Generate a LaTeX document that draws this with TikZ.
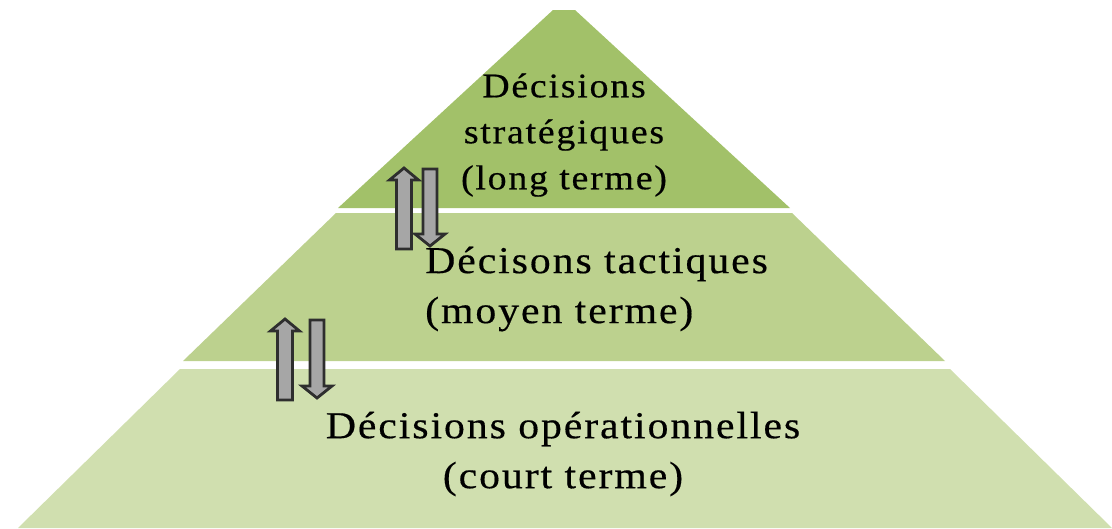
\documentclass[tikz,border=0pt]{standalone}
\usepackage{fontspec}
\setmainfont{Liberation Serif}[FakeStretch=1.1, LetterSpace=5, FakeBold=0.4]
\definecolor{layerA}{HTML}{A2C169}
\definecolor{layerB}{HTML}{BCD18E}
\definecolor{layerC}{HTML}{D0DFAF}
\definecolor{arrline}{HTML}{2E2E2E}
\definecolor{arrfill}{HTML}{A6A6A6}
\tikzset{
  blockarrow/.style={draw=arrline, fill=arrfill, line width=2.8pt, line join=miter},
  lbl/.style={inner sep=0pt, text=black},
}
% up arrow: center x, tip y, bottom y
\newcommand{\myuparrow}[3]{%
  \draw[blockarrow] (#1-7.5,#3) -- (#1-7.5,#2+12) -- (#1-14.5,#2+12) -- (#1,#2)
    -- (#1+14.5,#2+12) -- (#1+7.5,#2+12) -- (#1+7.5,#3) -- cycle;}
% down arrow: center x, top y, tip y
\newcommand{\mydownarrow}[3]{%
  \draw[blockarrow] (#1-7,#2) -- (#1-7,#3-12) -- (#1-15,#3-12) -- (#1,#3)
    -- (#1+15,#3-12) -- (#1+7,#3-12) -- (#1+7,#2) -- cycle;}
\begin{document}
\begin{tikzpicture}[x=1pt,y=-1pt]
\useasboundingbox (0,0) rectangle (1112,528);
% layers
\fill[layerA] (553,10) -- (575,10) -- (790,208) -- (338,208) -- cycle;
\fill[layerB] (336,213) -- (792,213) -- (945,361) -- (183,361) -- cycle;
\fill[layerC] (180,369) -- (950,369) -- (1112,528) -- (18,528) -- cycle;
% texts
\node[lbl, align=center, font=\fontsize{34.5}{46}\selectfont] (strat) at (564,135)
  {Décisions\\stratégiques\\(long terme)};
\node[lbl, align=left, anchor=west, font=\fontsize{38}{50}\selectfont] (tact) at (425,289)
  {Décisons tactiques\\(moyen terme)};
\node[lbl, align=center, font=\fontsize{38}{50}\selectfont] (oper) at (563,454)
  {Décisions opérationnelles\\(court terme)};
% arrows
\myuparrow{404}{168}{249}
\mydownarrow{430}{169}{246}
\myuparrow{285}{319}{400}
\mydownarrow{317}{320}{398}
\end{tikzpicture}
\end{document}
